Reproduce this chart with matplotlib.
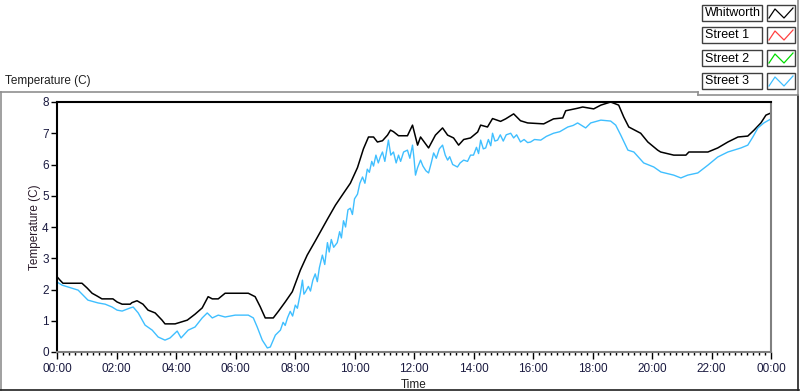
import matplotlib
matplotlib.use("Agg")
import matplotlib.pyplot as plt
from matplotlib.lines import Line2D
from matplotlib.patches import Rectangle
import numpy as np

plt.rcParams['font.family'] = ['Liberation Sans', 'DejaVu Sans']

# hours since midnight, temperature (C)
whit_t = [0, 0.10, 0.20, 0.84, 1.01, 1.18, 1.35, 1.51, 1.88, 2.02, 2.19, 2.46, 2.52, 2.69,
          2.89, 3.06, 3.30, 3.53, 3.63, 3.97, 4.21, 4.38, 4.64, 4.88, 5.08, 5.22, 5.42, 5.65,
          6.43, 6.66, 6.83, 7.00, 7.27, 7.44, 7.67, 7.91, 8.18, 8.41, 8.68, 9.09, 9.36, 9.63,
          9.86, 10.10, 10.30, 10.47, 10.64, 10.77, 10.94, 11.11, 11.21, 11.31, 11.48, 11.78,
          11.95, 12.12, 12.22, 12.49, 12.72, 12.96, 13.13, 13.33, 13.50, 13.67, 13.90, 14.14,
          14.24, 14.47, 14.64, 14.91, 15.08, 15.35, 15.58, 15.82, 16.36, 16.69, 17.00, 17.10,
          17.50, 17.67, 18.04, 18.28, 18.61, 18.88, 19.05, 19.22, 19.62, 19.86, 20.19, 20.29,
          20.73, 21.14, 21.24, 21.88, 22.21, 22.55, 22.89, 23.22, 23.43, 23.66, 23.83, 24.0]
whit_v = [2.41, 2.30, 2.20, 2.20, 2.05, 1.88, 1.79, 1.70, 1.70, 1.60, 1.53, 1.53, 1.58, 1.64,
          1.53, 1.34, 1.25, 1.02, 0.90, 0.90, 0.97, 1.02, 1.21, 1.41, 1.77, 1.70, 1.70, 1.88,
          1.88, 1.77, 1.45, 1.09, 1.09, 1.30, 1.60, 1.93, 2.62, 3.10, 3.55, 4.25, 4.70, 5.08,
          5.40, 5.90, 6.50, 6.88, 6.88, 6.72, 6.76, 6.94, 7.10, 7.05, 6.92, 6.92,
          7.26, 6.62, 6.88, 6.53, 6.94, 7.17, 6.94, 6.85, 6.62, 6.80, 6.85, 7.04,
          7.26, 7.20, 7.47, 7.38, 7.46, 7.62, 7.40, 7.33, 7.30, 7.46, 7.49, 7.72,
          7.80, 7.84, 7.78, 7.90, 8.00, 7.90, 7.52, 7.20, 7.00, 6.72, 6.46, 6.40,
          6.30, 6.30, 6.40, 6.40, 6.53, 6.72, 6.88, 6.91, 7.10, 7.33, 7.58, 7.65]

st3_t = [0, 0.17, 0.37, 0.71, 1.04, 1.38, 1.62, 1.85, 2.02, 2.19, 2.46, 2.56, 2.73, 2.96,
         3.20, 3.40, 3.63, 3.80, 4.04, 4.17, 4.41, 4.64, 4.88, 5.05, 5.22, 5.42, 5.65, 5.99,
         6.43, 6.60, 6.73, 6.90, 7.07, 7.17, 7.34, 7.51, 7.60, 7.67, 7.75, 7.84, 7.92, 8.01,
         8.08, 8.18, 8.25, 8.30, 8.35, 8.45, 8.52, 8.60, 8.68, 8.75, 8.82, 8.92, 9.00, 9.09,
         9.15, 9.22, 9.30, 9.42, 9.50, 9.56, 9.63, 9.70, 9.78, 9.86, 9.93, 10.00, 10.10, 10.18,
         10.27, 10.35, 10.43, 10.50, 10.58, 10.64, 10.72, 10.80, 10.87, 10.94, 11.02, 11.10,
         11.14, 11.22, 11.31, 11.40, 11.48, 11.55, 11.65, 11.78, 11.86, 11.95, 12.00, 12.05,
         12.12, 12.22, 12.30, 12.40, 12.49, 12.58, 12.66, 12.75, 12.85, 12.96, 13.05, 13.13,
         13.20, 13.30, 13.46, 13.55, 13.67, 13.80, 13.90, 14.00, 14.10, 14.17, 14.24, 14.33,
         14.41, 14.50, 14.58, 14.64, 14.72, 14.81, 14.90, 15.00, 15.10, 15.25, 15.35, 15.45,
         15.58, 15.70, 15.82, 15.92, 16.05, 16.26, 16.45, 16.69, 16.90, 17.17, 17.35, 17.50,
         17.77, 17.94, 18.28, 18.61, 18.78, 18.95, 19.19, 19.39, 19.72, 20.06, 20.30, 20.73,
         20.97, 21.20, 21.54, 21.88, 22.21, 22.55, 22.99, 23.22, 23.39, 23.56, 23.76, 24.0]
st3_v = [2.24, 2.14, 2.08, 1.98, 1.66, 1.57, 1.53, 1.44, 1.34, 1.31, 1.41, 1.44, 1.25, 0.86,
         0.70, 0.48, 0.38, 0.45, 0.67, 0.45, 0.70, 0.80, 1.09, 1.25, 1.09, 1.18, 1.12, 1.18,
         1.18, 1.09, 0.80, 0.38, 0.13, 0.16, 0.54, 0.70, 0.95, 0.85, 1.10, 1.30, 1.15, 1.50,
         1.40, 1.88, 2.30, 1.85, 1.92, 2.10, 1.95, 2.30, 2.50, 2.25, 2.70, 3.10, 2.80, 3.50,
         3.20, 3.60, 3.35, 3.50, 3.85, 3.65, 4.20, 4.00, 4.55, 4.60, 4.40, 4.90, 5.05, 5.40,
         5.60, 5.40, 5.85, 5.75, 6.10, 5.95, 6.30, 6.05, 6.25, 6.40, 6.10, 6.55,
         6.78, 6.30, 6.40, 6.05, 6.30, 6.10, 6.40, 6.46, 6.20, 6.62, 6.20, 5.66,
         5.90, 6.14, 5.95, 5.80, 5.73, 6.05, 6.37, 6.20, 6.50, 6.62, 6.30, 6.14,
         6.25, 6.00, 5.92, 6.05, 6.14, 6.10, 6.30, 6.30, 6.55, 6.35, 6.78, 6.50,
         6.53, 6.80, 6.60, 7.00, 6.75, 6.78, 6.95, 6.75, 6.95, 7.00, 6.85, 6.95,
         6.72, 6.80, 6.70, 6.72, 6.80, 6.78, 6.90, 7.00, 7.05, 7.20, 7.25, 7.33,
         7.17, 7.33, 7.42, 7.39, 7.26, 6.94, 6.46, 6.40, 6.05, 5.92, 5.76, 5.66,
         5.57, 5.66, 5.73, 5.98, 6.24, 6.40, 6.53, 6.62, 6.88, 7.17, 7.33, 7.46]

names = ['Whitworth', 'Street 1', 'Street 2', 'Street 3']
colors = ['#000000', '#ff4040', '#00dd00', '#3fbfff']
tick_hours = list(range(0, 25, 2))
tick_labels = ['%02d:00' % (h % 24) for h in tick_hours]

W, H = 800, 392
fig = plt.figure(figsize=(8, 3.92), dpi=100)


def fx(px):
    return px / W


def fy(py):
    return 1 - py / H


ax = fig.add_axes([fx(57), fy(352), fx(771) - fx(57), fy(102) - fy(352)])
ax.plot(whit_t, whit_v, color=colors[0], lw=1.1)
ax.plot(st3_t, st3_v, color=colors[3], lw=1.0)
ax.set_xlim(0, 24)
ax.set_ylim(0, 8)
ax.set_xticks(tick_hours)
ax.set_xticklabels(tick_labels)
ax.set_xticks(np.arange(0, 24.01, 0.2), minor=True)
ax.set_yticks(range(0, 9))
ax.tick_params(axis='both', which='major', direction='out', length=4, width=1,
               labelsize=8.5, labelcolor='#1a1a40', color='black', pad=2)
ax.tick_params(axis='x', which='minor', direction='out', length=2.5, width=1, color='black')
ax.tick_params(axis='x', which='major', length=5, pad=3)
ax.spines['top'].set_color('black')
ax.spines['left'].set_color('black')
ax.spines['top'].set_linewidth(1.5)
ax.spines['left'].set_linewidth(1.5)
ax.spines['bottom'].set_color('#808080')
ax.spines['right'].set_color('#808080')
ax.spines['bottom'].set_linewidth(1.5)
ax.spines['right'].set_linewidth(1.5)
ax.set_xlabel('Time', fontsize=8.5, color='#202020', labelpad=3)
ax.set_ylabel('Temperature (C)', fontsize=8.5, color='#2a1a2a', labelpad=1)

fig.text(fx(5), fy(81), 'Temperature (C)', fontsize=8.5, va='center', ha='left', color='#202020')

# outer frame
frame = [((0, 698), (92, 92), '#909090'), ((698, 698), (92, 95), '#909090'),
         ((698, 797), (95, 95), '#909090'), ((1, 1), (92, 390), '#909090'),
         ((0, 799), (390, 390), '#202020'), ((798, 798), (95, 390), '#202020'),
         ((798, 798), (0, 95), '#909090')]
for xs, ys, c in frame:
    fig.add_artist(Line2D([fx(xs[0]), fx(xs[1])], [fy(ys[0]), fy(ys[1])], color=c, lw=1.2))

# legend panel
box_tops = [5, 27, 50, 73]
for name, c, top in zip(names, colors, box_tops):
    fig.add_artist(Rectangle((fx(702), fy(top + 16)), fx(60), 16 / H, facecolor='white',
                             edgecolor='#404040', lw=1))
    fig.text(fx(705), fy(top + 8.5), name, fontsize=9, va='center', ha='left', color='black')
    fig.add_artist(Rectangle((fx(767), fy(top + 16)), fx(28), 16 / H, facecolor='white',
                             edgecolor='#404040', lw=1))
    zx = [769, 775, 784, 793]
    zy = [top + 13, top + 4, top + 13, top + 3]
    fig.add_artist(Line2D([fx(v) for v in zx], [fy(v) for v in zy], color=c, lw=0.9))

fig.savefig('out.png', dpi=100)
